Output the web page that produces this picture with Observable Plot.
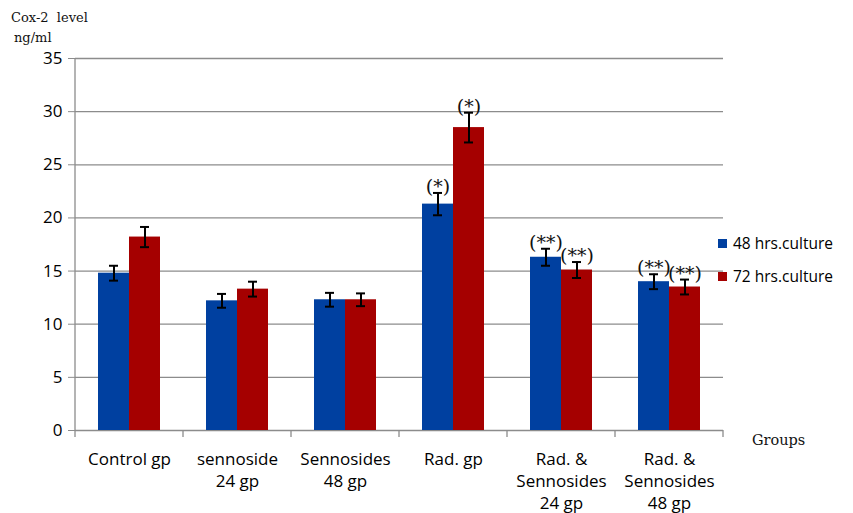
<!DOCTYPE html>
<html><head><meta charset="utf-8">
<script src="https://cdn.jsdelivr.net/npm/d3@7"></script>
<script src="https://cdn.jsdelivr.net/npm/@observablehq/plot@0.6"></script>
<style>body{margin:0;background:#fff}#chart{position:relative;width:853px;height:513px}</style>
</head><body><div id="chart"></div>
<script>
const groups = ["Control gp","sennoside\n24 gp","Sennosides\n48 gp","Rad. gp","Rad. &\nSennosides\n24 gp","Rad. &\nSennosides\n48 gp"];
const series = ["48 hrs.culture","72 hrs.culture"];
const values48 = [14.8,12.2,12.3,21.3,16.3,14.0];
const values72 = [18.2,13.3,12.3,28.5,15.1,13.5];
const err48 = [0.7,0.65,0.65,1.05,0.8,0.7];
const err72 = [0.95,0.7,0.6,1.4,0.75,0.7];
const sig48 = ["","","","(*)","(**)","(**)"];
const sig72 = ["","","","(*)","(**)","(**)"];
const yTicks = [0,5,10,15,20,25,30,35];
const colors = ["#0040A0","#A50000"];

const data = [];
groups.forEach((g,i)=>{
  data.push({group:g, series:series[0], value:values48[i], err:err48[i], sig:sig48[i]});
  data.push({group:g, series:series[1], value:values72[i], err:err72[i], sig:sig72[i]});
});

const grid = "#8c8c8c";
const serif = "DejaVu Serif, Liberation Serif, serif";
const sans = "Open Sans, Liberation Sans, sans-serif";
const chart = Plot.plot({
  width: 853, height: 513,
  marginLeft: 75, marginRight: 130, marginTop: 58, marginBottom: 83,
  style: {fontFamily: sans, background: "#fff"},
  fx: {domain: groups, padding: 0, label: null},
  x: {domain: series, paddingInner: 0, paddingOuter: 0.74, axis: null},
  y: {domain: [0,35], label: null},
  color: {domain: series, range: colors},
  marks: [
    Plot.gridY(yTicks, {stroke: grid, strokeOpacity: 1, strokeWidth: 1.3}),
    Plot.axisY(yTicks, {tickSize: 7, stroke: grid, fill: "#000", fontSize: 17, tickPadding: 6, label: null}),
    Plot.axisFx({anchor: "bottom", tickSize: 0, tickPadding: 19, fontSize: 17, lineHeight: 1.3, fill: "#000", label: null}),
    Plot.barY(data, {fx: "group", x: "series", y: "value", fill: "series"}),
    Plot.ruleX(data, {fx: "group", x: "series", y1: d=>d.value-d.err, y2: d=>d.value+d.err, stroke: "#000", strokeWidth: 2}),
    Plot.tickY(data, {fx: "group", x: "series", y: d=>d.value-d.err, stroke: "#000", strokeWidth: 2, insetLeft: 11, insetRight: 11}),
    Plot.tickY(data, {fx: "group", x: "series", y: d=>d.value+d.err, stroke: "#000", strokeWidth: 2, insetLeft: 11, insetRight: 11}),
    Plot.text(data, {fx: "group", x: "series", y: d=>d.value+d.err, text: "sig", lineAnchor: "bottom", dy: 0, fontSize: 19, fontFamily: serif, fill: "#111"})
  ]
});
document.getElementById("chart").appendChild(chart);

// decorations derived from the scales
const svg = d3.select(chart);
const fxs = chart.scale("fx"), ys = chart.scale("y"), cs = chart.scale("color");
const fx = d3.scaleBand(fxs.domain, fxs.range).padding(0);
const y = d3.scaleLinear(ys.domain, ys.range);
const x0 = fxs.range[0], x1 = fxs.range[1];
svg.append("line").attr("x1", x0).attr("x2", x0).attr("y1", y(35)).attr("y2", y(0)).attr("stroke", grid).attr("stroke-width", 1.3);
for (let i = 0; i <= groups.length; i++) {
  const xx = x0 + i*fx.step();
  svg.append("line").attr("x1", xx).attr("x2", xx).attr("y1", y(0)).attr("y2", y(0)+7).attr("stroke", grid).attr("stroke-width", 1.3);
}
// legend
series.forEach((s,i)=>{
  const cy = 244 + i*33;
  svg.append("rect").attr("x", x1 - 5).attr("y", cy - 5).attr("width", 9).attr("height", 9).attr("fill", cs.range[i]);
  svg.append("text").attr("x", x1 + 10).attr("y", cy).attr("dy", "0.35em").attr("text-anchor", "start").attr("font-size", 15.5).attr("font-family", sans).attr("fill", "#000").text(s);
});
// axis titles
const addText = (t, x, yy, size) => svg.append("text").attr("x", x).attr("y", yy).attr("dy","0.35em").attr("text-anchor","start").attr("font-size", size).attr("font-family", serif).attr("fill","#111").text(t);
addText("Groups", 752, y(0)+10, 14.5);
addText("Cox-2  level", 11, 17, 13);
addText("ng/ml", 14, 37, 13);
</script></body></html>
